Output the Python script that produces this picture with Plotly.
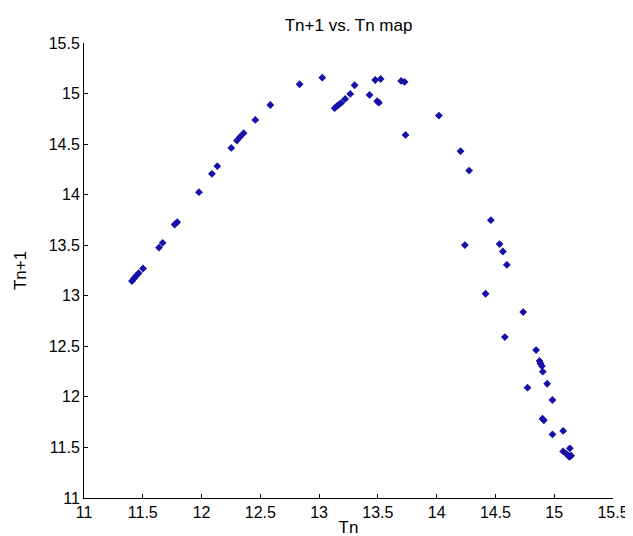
import plotly.graph_objects as go

tn = [12.834, 13.027, 12.585, 12.457, 12.301, 12.327, 12.358, 12.253, 12.134, 12.088,
      11.978, 11.793, 11.771, 11.669, 11.638, 11.502, 11.465, 11.445, 11.425, 11.408,
      13.132, 13.151, 13.168, 13.188, 13.222, 13.265, 13.302, 13.429, 13.477, 13.523,
      13.494, 13.509, 13.698, 13.727, 14.019, 13.735, 14.203, 14.276, 14.461, 14.240,
      14.535, 14.563, 14.597, 14.416, 14.736, 14.580, 14.846, 14.875, 14.883, 14.895,
      14.903, 14.940, 14.773, 14.985, 14.900, 14.912, 14.985, 15.076, 15.076, 15.133,
      15.101, 15.122, 15.144, 15.130]
tn1 = [15.092, 15.157, 14.887, 14.739, 14.535, 14.571, 14.608, 14.462, 14.282, 14.206,
       14.025, 13.728, 13.705, 13.524, 13.477, 13.270, 13.224, 13.198, 13.171, 13.145,
       14.855, 14.875, 14.891, 14.907, 14.947, 14.996, 15.082, 14.986, 15.134, 15.144,
       14.924, 14.910, 15.125, 15.115, 14.782, 14.591, 14.430, 14.238, 13.748, 13.501,
       13.511, 13.438, 13.306, 13.020, 12.839, 12.592, 12.463, 12.355, 12.331, 12.305,
       12.249, 12.130, 12.091, 11.969, 11.785, 11.768, 11.629, 11.663, 11.461, 11.491,
       11.439, 11.419, 11.419, 11.406]

ticks = [11, 11.5, 12, 12.5, 13, 13.5, 14, 14.5, 15, 15.5]
tick_text = ["11", "11.5", "12", "12.5", "13", "13.5", "14", "14.5", "15", "15.5"]

fig = go.Figure(go.Scatter(
    x=tn, y=tn1, mode="markers",
    marker=dict(symbol="diamond", size=6, color="#1410a8"),
))

axis_common = dict(
    tickvals=ticks, ticktext=tick_text, showgrid=False, zeroline=False,
    showline=True, linecolor="black", linewidth=1,
    ticks="inside", ticklen=4, tickcolor="black",
    tickfont=dict(family="Liberation Sans, Arial", size=16, color="black"),
    mirror=False,
)

fig.update_layout(
    width=633, height=536,
    margin=dict(l=76, r=28, t=35, b=46),
    paper_bgcolor="white", plot_bgcolor="white",
    showlegend=False,
    title=dict(text="Tn+1 vs. Tn map", x=0.538, xanchor="center", y=0.968, yanchor="middle",
               font=dict(family="Liberation Sans, Arial", size=17, color="black")),
    xaxis=dict(range=[11, 15.5], title=dict(text="Tn", standoff=0,
               font=dict(family="Liberation Sans, Arial", size=17, color="black")), **axis_common),
    yaxis=dict(range=[11, 15.5], title=dict(text="Tn+1", standoff=17,
               font=dict(family="Liberation Sans, Arial", size=17, color="black")), **axis_common),
)

fig.write_html("out.html")
